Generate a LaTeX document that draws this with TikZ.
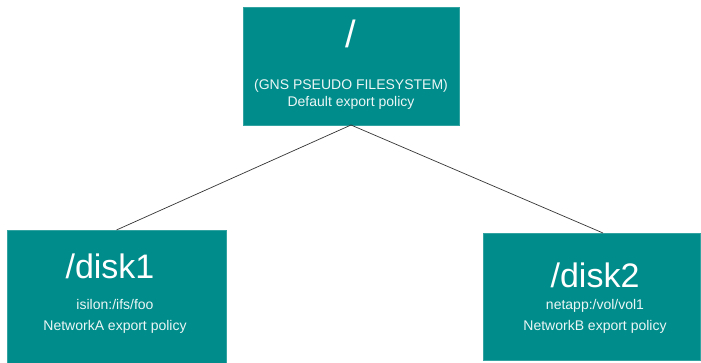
\documentclass[tikz,border=0pt]{standalone}
\usepackage{fontspec}
\setmainfont{Liberation Sans}
\definecolor{teal1}{RGB}{0,140,138}
\begin{document}
\begin{tikzpicture}[x=1pt,y=-1pt,
  box/.style={fill=teal1,draw=teal1!80!white,line width=0.6pt,inner sep=0pt,outer sep=0pt,rectangle},
  big/.style={text=white,font=\fontsize{34}{34}\selectfont,inner sep=0pt},
  small/.style={text=white!92!teal1,font=\fontsize{14}{14}\selectfont,inner sep=0pt},
  link/.style={draw=black!80,line width=0.7pt}]
\useasboundingbox[fill=white] (0,0) rectangle (701,363);
\node[box,minimum width=216pt,minimum height=118pt] (rootbox) at (351,66) {};
\node[box,minimum width=219pt,minimum height=136pt] (box1) at (116.5,298) {};
\node[box,minimum width=217pt,minimum height=127pt] (box2) at (591.5,296.5) {};
\draw[link] (rootbox.south) -- (box1.north);
\draw[link] (rootbox.south) -- ([xshift=11.5pt]box2.north);
\node[big,font=\fontsize{38}{38}\selectfont] (slash) at (351,34) {/};
\node[small] (gns) at (351,86) {(GNS PSEUDO FILESYSTEM)};
\node[small] (def) at (351,103) {Default export policy};
\node[big] (disk1) at (110,266) {/disk1};
\node[small] (isi) at (115,304) {isilon:/ifs/foo};
\node[small] (neta) at (115,327) {NetworkA export policy};
\node[big] (disk2) at (595,275) {/disk2};
\node[small] (netapp) at (595,306) {netapp:/vol/vol1};
\node[small] (netb) at (595,327) {NetworkB export policy};
\end{tikzpicture}
\end{document}
